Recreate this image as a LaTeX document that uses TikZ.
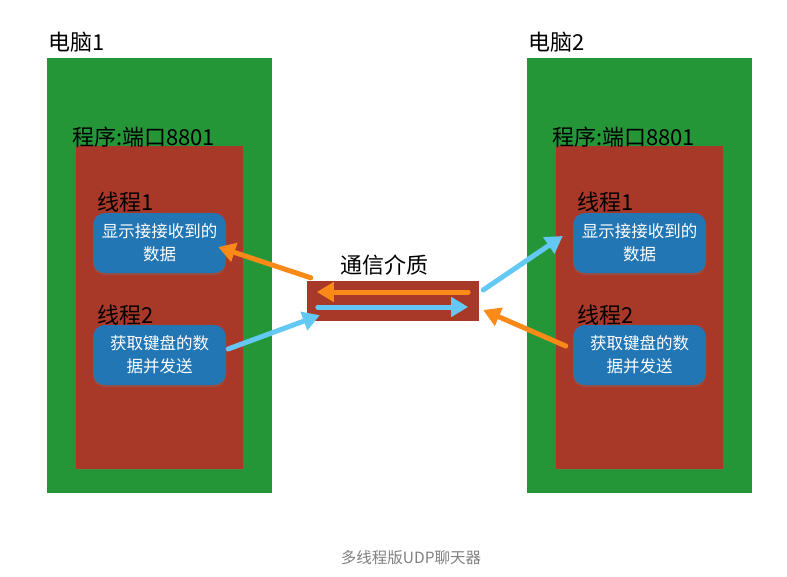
\documentclass[tikz,border=0pt]{standalone}
\usepackage{fontspec}
\setmainfont{Noto Sans CJK SC}
\usetikzlibrary{arrows.meta,shadows}

\definecolor{pcgreen}{RGB}{36,150,56}
\definecolor{progred}{RGB}{168,56,40}
\definecolor{threadblue}{RGB}{34,118,180}
\definecolor{sendorange}{RGB}{250,138,24}
\definecolor{recvblue}{RGB}{100,200,245}
\definecolor{captiongray}{RGB}{128,128,128}

\begin{document}
\begin{tikzpicture}[x=1pt,y=-1pt,line cap=round,
  pcbox/.style={fill=pcgreen,inner sep=0pt,minimum width=225pt,minimum height=435pt},
  progbox/.style={fill=progred,inner sep=0pt,minimum width=167pt,minimum height=323pt,
    drop shadow={shadow xshift=0pt,shadow yshift=-1pt,opacity=.25}},
  threadbox/.style={fill=threadblue,rounded corners=12pt,inner sep=0pt,
    minimum width=133pt,minimum height=60pt,text=white,align=center,
    font=\fontsize{16.5}{23}\selectfont,
    drop shadow={shadow xshift=0pt,shadow yshift=-2pt,opacity=.3}},
  tag/.style={anchor=west,inner sep=0pt,font=\fontsize{22}{22}\selectfont},
  sendarrow/.style={draw=sendorange,line width=5pt,-{Triangle[length=17pt,width=19pt]}},
  recvarrow/.style={draw=recvblue,line width=5pt,-{Triangle[length=17pt,width=19pt]}}]
  \useasboundingbox (0,0) rectangle (787,576);

  % two computers, same layout
  \foreach \dx/\n in {0/1,480/2}{
    \begin{scope}[xshift=\dx]
      \node[pcbox] (pc\n) at (159.5,275.5) {};
      \node[tag] (pclabel\n) at (48,42) {电脑\n};
      \node[progbox] (prog\n) at (159.5,307.5) {};
      \node[tag] (proglabel\n) at (72,137) {程序:端口8801};
      \node[tag] (thlabel\n a) at (97,202) {线程1};
      \node[threadbox] (recv\n) at (159.5,243) {显示接接收到的\\数据};
      \node[tag] (thlabel\n b) at (97,315) {线程2};
      \node[threadbox] (send\n) at (159.5,355) {获取键盘的数\\据并发送};
    \end{scope}
  }

  % medium in the middle
  \node[fill=progred,inner sep=0pt,minimum width=172pt,minimum height=40pt] (medium) at (393,301) {};
  \node[tag] (mediumlabel) at (340,265) {通信介质};

  \draw[sendarrow] ([shift={(-11,-9)}]medium.east) -- ([shift={(10,-9)}]medium.west);
  \draw[recvarrow] ([shift={(11,6)}]medium.west) -- ([shift={(-11,6)}]medium.east);

  \draw[sendarrow] ([shift={(4,-3)}]medium.north west) -- ([shift={(-8,4)}]recv1.east);
  \draw[recvarrow] ([shift={(2,-6)}]send1.east) -- ([shift={(13,-6)}]medium.south west);
  \draw[recvarrow] ([shift={(4,-11)}]medium.east) -- ([shift={(-10,-7)}]recv2.west);
  \draw[sendarrow] ([shift={(-7,-9)}]send2.west) -- ([shift={(4,9)}]medium.east);

  \node[text=captiongray,font=\fontsize{15.5}{15.5}\selectfont,inner sep=0pt] (caption) at (411,558) {多线程版UDP聊天器};
\end{tikzpicture}
\end{document}
